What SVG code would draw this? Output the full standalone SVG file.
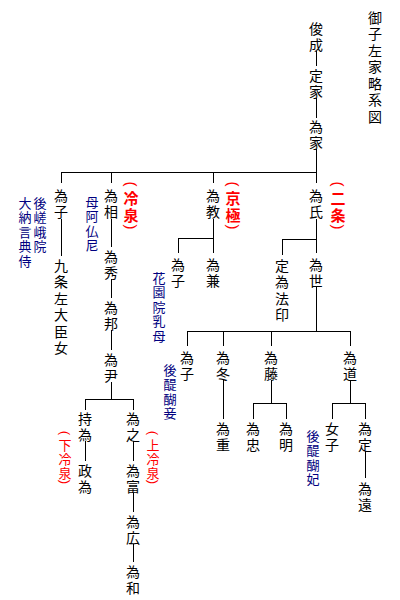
<svg xmlns="http://www.w3.org/2000/svg" width="400" height="600" viewBox="0 0 400 600">
<style>
text{font-family:"Noto Sans CJK JP","Noto Sans CJK SC",sans-serif;text-anchor:middle;dominant-baseline:central}
.k{font-size:14px;fill:#000}
.b{font-size:13px;fill:#000080}
.r{font-size:15px;fill:#ff0000;font-weight:bold}
.rs{font-size:13px;fill:#ff0000}
.p{font-family:"Liberation Sans",sans-serif;font-size:15px;fill:#ff0000}
.ps{font-family:"Liberation Sans",sans-serif;font-size:13px;fill:#ff0000}
.ln{fill:none;stroke:#000;stroke-width:1;shape-rendering:crispEdges}
</style>
<rect width="400" height="600" fill="#fff"/>
<g id="connectors">
<path class="ln" d="M316 51V66M316 98V118M316 149V183M61 172H316M61 172V183M111 172V183M213 172V183
M61 219V256
M111 219V247M111 279V298M111 330V350M111 382V399M85 399H133M85 399V410M133 399V410
M85 441V461M133 441V461M133 493V512M133 544V562
M213 219V253M178 238H213M178 238V253
M316 219V253M282 239H316M282 239V255
M316 287V331M187 331H350M187 331V346M223 331V346M271 331V346M350 331V346
M223 380V419M271 380V403M253 403H286M253 403V419M286 403V419
M350 380V403M332 403H365M332 403V419M365 403V419M365 451V478"/>
</g>
<g id="title"><text class="k"><tspan x="375" y="16.5">御</tspan><tspan x="375" y="33">子</tspan><tspan x="375" y="49.5">左</tspan><tspan x="375" y="66">家</tspan><tspan x="375" y="82.5">略</tspan><tspan x="375" y="99">系</tspan><tspan x="375" y="115.5">図</tspan></text></g>
<g id="shunzei"><text class="k"><tspan x="316" y="27.5">俊</tspan><tspan x="316" y="44">成</tspan></text></g>
<g id="teika"><text class="k"><tspan x="316" y="74.5">定</tspan><tspan x="316" y="91">家</tspan></text></g>
<g id="tameie"><text class="k"><tspan x="316" y="125.5">為</tspan><tspan x="316" y="142">家</tspan></text></g>
<g id="tameko1"><text class="k"><tspan x="61" y="194.5">為</tspan><tspan x="61" y="211">子</tspan></text>
<text class="b"><tspan x="40" y="201.5">後</tspan><tspan x="40" y="216">嵯</tspan><tspan x="40" y="230.5">峨</tspan><tspan x="40" y="245">院</tspan></text>
<text class="b"><tspan x="25" y="201.5">大</tspan><tspan x="25" y="216">納</tspan><tspan x="25" y="230.5">言</tspan><tspan x="25" y="245">典</tspan><tspan x="25" y="259.5">侍</tspan></text></g>
<g id="kujo"><text class="k"><tspan x="61" y="264.5">九</tspan><tspan x="61" y="281">条</tspan><tspan x="61" y="297.5">左</tspan><tspan x="61" y="314">大</tspan><tspan x="61" y="330.5">臣</tspan><tspan x="61" y="347">女</tspan></text></g>
<g id="tamesuke"><text class="k"><tspan x="111" y="194.5">為</tspan><tspan x="111" y="211">相</tspan></text>
<text class="b"><tspan x="92" y="200.5">母</tspan><tspan x="92" y="215">阿</tspan><tspan x="92" y="229.5">仏</tspan><tspan x="92" y="244">尼</tspan></text>
<text class="p" x="131" y="184" transform="rotate(90 131 184)">(</text>
<text class="r"><tspan x="131" y="196.5">冷</tspan><tspan x="131" y="214">泉</tspan></text>
<text class="p" x="131" y="227" transform="rotate(90 131 227)">)</text></g>
<g id="tamehide"><text class="k"><tspan x="111" y="255.5">為</tspan><tspan x="111" y="272">秀</tspan></text></g>
<g id="tamekuni"><text class="k"><tspan x="111" y="306.5">為</tspan><tspan x="111" y="323">邦</tspan></text></g>
<g id="tamemasa"><text class="k"><tspan x="111" y="358.5">為</tspan><tspan x="111" y="375">尹</tspan></text></g>
<g id="mochitame"><text class="k"><tspan x="85" y="417.5">持</tspan><tspan x="85" y="434">為</tspan></text>
<text class="ps" x="65" y="433" transform="rotate(90 65 433)">(</text>
<text class="rs"><tspan x="65" y="444">下</tspan><tspan x="65" y="458">冷</tspan><tspan x="65" y="472">泉</tspan></text>
<text class="ps" x="65" y="482" transform="rotate(90 65 482)">)</text></g>
<g id="masatame"><text class="k"><tspan x="85" y="469.5">政</tspan><tspan x="85" y="486">為</tspan></text></g>
<g id="tameyuki"><text class="k"><tspan x="133" y="417.5">為</tspan><tspan x="133" y="434">之</tspan></text>
<text class="ps" x="153" y="433" transform="rotate(90 153 433)">(</text>
<text class="rs"><tspan x="153" y="444">上</tspan><tspan x="153" y="458">冷</tspan><tspan x="153" y="472">泉</tspan></text>
<text class="ps" x="153" y="482" transform="rotate(90 153 482)">)</text></g>
<g id="tametomi"><text class="k"><tspan x="133" y="469.5">為</tspan><tspan x="133" y="486">富</tspan></text></g>
<g id="tamehiro"><text class="k"><tspan x="133" y="520.5">為</tspan><tspan x="133" y="537">広</tspan></text></g>
<g id="tamekazu"><text class="k"><tspan x="133" y="570.5">為</tspan><tspan x="133" y="587">和</tspan></text></g>
<g id="tamenori"><text class="k"><tspan x="213" y="194.5">為</tspan><tspan x="213" y="211">教</tspan></text>
<text class="p" x="233" y="184" transform="rotate(90 233 184)">(</text>
<text class="r"><tspan x="233" y="196.5">京</tspan><tspan x="233" y="214">極</tspan></text>
<text class="p" x="233" y="227" transform="rotate(90 233 227)">)</text></g>
<g id="tameko2"><text class="k"><tspan x="178" y="263.5">為</tspan><tspan x="178" y="280">子</tspan></text>
<text class="b"><tspan x="159" y="276.5">花</tspan><tspan x="159" y="291">園</tspan><tspan x="159" y="305.5">院</tspan><tspan x="159" y="320">乳</tspan><tspan x="159" y="334.5">母</tspan></text></g>
<g id="tamekane"><text class="k"><tspan x="213" y="263.5">為</tspan><tspan x="213" y="280">兼</tspan></text></g>
<g id="tameuji"><text class="k"><tspan x="316" y="194.5">為</tspan><tspan x="316" y="211">氏</tspan></text>
<text class="p" x="338" y="184" transform="rotate(90 338 184)">(</text>
<text class="r"><tspan x="338" y="196.5">二</tspan><tspan x="338" y="214">条</tspan></text>
<text class="p" x="338" y="227" transform="rotate(90 338 227)">)</text></g>
<g id="joui"><text class="k"><tspan x="282" y="264.5">定</tspan><tspan x="282" y="281">為</tspan><tspan x="282" y="297.5">法</tspan><tspan x="282" y="314">印</tspan></text></g>
<g id="tameyo"><text class="k"><tspan x="316" y="263.5">為</tspan><tspan x="316" y="280">世</tspan></text></g>
<g id="tameko3"><text class="k"><tspan x="187" y="356.5">為</tspan><tspan x="187" y="373">子</tspan></text>
<text class="b"><tspan x="170" y="368.5">後</tspan><tspan x="170" y="383">醍</tspan><tspan x="170" y="397.5">醐</tspan><tspan x="170" y="412">妾</tspan></text></g>
<g id="tamefuyu"><text class="k"><tspan x="223" y="356.5">為</tspan><tspan x="223" y="373">冬</tspan></text></g>
<g id="tameshige"><text class="k"><tspan x="223" y="427.5">為</tspan><tspan x="223" y="444">重</tspan></text></g>
<g id="tamefuji"><text class="k"><tspan x="271" y="356.5">為</tspan><tspan x="271" y="373">藤</tspan></text></g>
<g id="tametada"><text class="k"><tspan x="253" y="427.5">為</tspan><tspan x="253" y="444">忠</tspan></text></g>
<g id="tameaki"><text class="k"><tspan x="286" y="427.5">為</tspan><tspan x="286" y="444">明</tspan></text></g>
<g id="tamemichi"><text class="k"><tspan x="350" y="356.5">為</tspan><tspan x="350" y="373">道</tspan></text></g>
<g id="nyoshi"><text class="k"><tspan x="332" y="427.5">女</tspan><tspan x="332" y="444">子</tspan></text>
<text class="b"><tspan x="313" y="434.5">後</tspan><tspan x="313" y="449">醍</tspan><tspan x="313" y="463.5">醐</tspan><tspan x="313" y="478">妃</tspan></text></g>
<g id="tamesada"><text class="k"><tspan x="365" y="427.5">為</tspan><tspan x="365" y="444">定</tspan></text></g>
<g id="tametoo"><text class="k"><tspan x="365" y="487.5">為</tspan><tspan x="365" y="504">遠</tspan></text></g>
</svg>
